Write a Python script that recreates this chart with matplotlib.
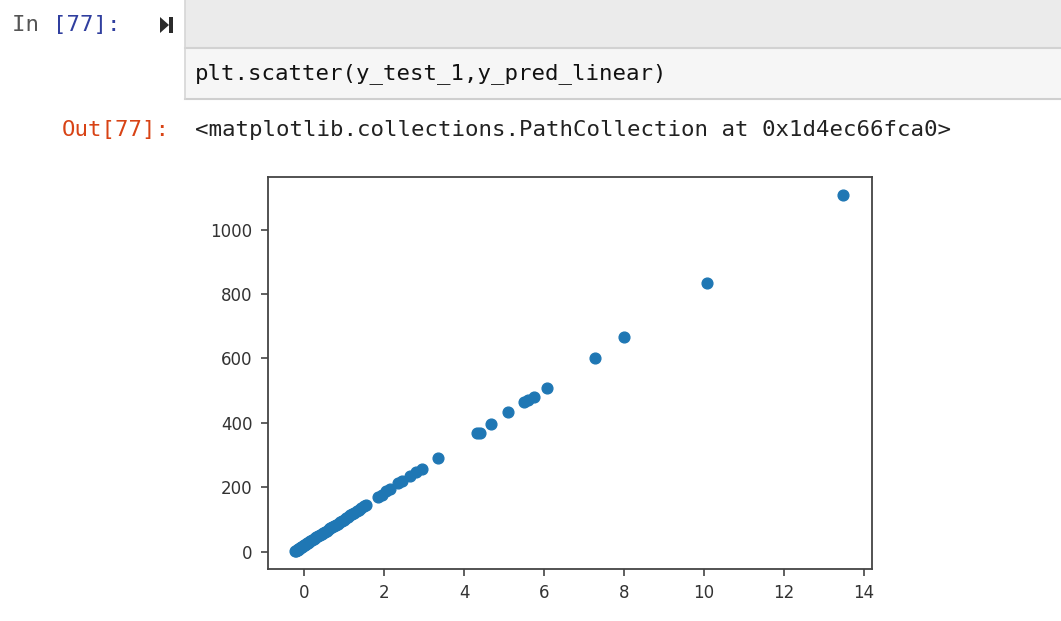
import matplotlib.pyplot as plt
from matplotlib.patches import Rectangle, Polygon

# y_test_1 against y_pred_linear
y_test_1 = [-0.22, -0.2, -0.18, -0.16, -0.15, -0.13, -0.11, -0.09, -0.07, -0.05,
            -0.03, 0.0, 0.02, 0.05, 0.08, 0.1, 0.13, 0.16, 0.2, 0.24,
            0.28, 0.31, 0.35, 0.4, 0.44, 0.48, 0.52, 0.57, 0.62, 0.66,
            0.71, 0.76, 0.8, 0.85, 0.9, 0.95, 1.0, 1.05, 1.1, 1.15,
            1.2, 1.26, 1.32, 1.38, 1.43, 1.5, 1.55,
            1.85, 1.95, 2.05, 2.15, 2.35, 2.45, 2.65, 2.8, 2.95, 3.35,
            4.33, 4.4, 4.67, 5.1, 5.5, 5.6, 5.75, 6.07, 7.28, 8.0,
            10.07, 13.47]
y_pred_linear = [2, 4, 6, 7, 8, 10, 11, 13, 14, 16,
                 18, 20, 22, 24, 27, 28, 31, 33, 36, 39,
                 43, 45, 48, 52, 55, 59, 62, 66, 70, 73,
                 77, 81, 84, 88, 92, 96, 100, 105, 109, 113,
                 117, 121, 126, 131, 135, 141, 145,
                 170, 178, 188, 196, 214, 220, 237, 248, 258, 291,
                 368, 370, 396, 434, 466, 470, 480, 508, 601, 667,
                 834, 1107]

x_ticks = [0, 2, 4, 6, 8, 10, 12, 14]
y_ticks = [0, 200, 400, 600, 800, 1000]

code_line = "plt.scatter(y_test_1,y_pred_linear)"
out_repr = "<matplotlib.collections.PathCollection at 0x1d4ec66fca0>"

W, H = 1061, 621
fig = plt.figure(figsize=(W / 100, H / 100), dpi=100)
fig.patch.set_facecolor('white')


def fx(px):
    return px / W


def fy(py):
    return 1 - py / H


mono = 'DejaVu Sans Mono'
fs = 16.1

# input cell: toolbar strip + code area
fig.patches.append(Rectangle((fx(185), fy(48)), fx(W - 185), 48 / H,
                             transform=fig.transFigure, facecolor='#ebebeb',
                             edgecolor='none'))
fig.patches.append(Rectangle((fx(185), fy(99)), fx(W - 185), 51 / H,
                             transform=fig.transFigure, facecolor='#f6f6f6',
                             edgecolor='none'))
fig.add_artist(plt.Line2D([fx(185), 1], [fy(48), fy(48)], color='#d2d2d2', lw=1.5))
fig.add_artist(plt.Line2D([fx(185), 1], [fy(99), fy(99)], color='#cfcfcf', lw=1.5))
fig.add_artist(plt.Line2D([fx(185), fx(185)], [fy(99), 1], color='#d6d6d6', lw=1.2))

# prompts
cw = 13.5
fig.text(fx(12), fy(25), "In ", family=mono, fontsize=fs, color='#555555', va='center')
fig.text(fx(12 + 3 * cw), fy(25), "[77]:", family=mono, fontsize=fs, color='#303F9F', va='center')
fig.text(fx(62), fy(130), "Out[77]:", family=mono, fontsize=fs, color='#D84315', va='center')

# run button
fig.patches.append(Polygon([(fx(160), fy(17)), (fx(160), fy(33)), (fx(169), fy(25))],
                           closed=True, transform=fig.transFigure,
                           facecolor='#2b2b2b', edgecolor='none'))
fig.patches.append(Rectangle((fx(169), fy(33)), fx(4), 16 / H,
                             transform=fig.transFigure, facecolor='#2b2b2b',
                             edgecolor='none'))

fig.text(fx(195), fy(74), code_line, family=mono, fontsize=fs, color='#111111', va='center')
fig.text(fx(195), fy(130), out_repr, family=mono, fontsize=fs, color='#222222', va='center')

# the scatter output
ax = fig.add_axes([fx(268), fy(569), fx(872 - 268), (569 - 177) / H])
ax.scatter(y_test_1, y_pred_linear, s=60, color='#1f77b4')
ax.set_xlim(-0.9, 14.2)
ax.set_ylim(-53, 1163)
ax.set_xticks(x_ticks)
ax.set_yticks(y_ticks)
ax.tick_params(labelsize=12, labelcolor='#333333', color='#444444', length=5, width=1.2, pad=6)
for sp in ax.spines.values():
    sp.set_color('#444444')
    sp.set_linewidth(1.3)

fig.savefig('out.png', dpi=100)
